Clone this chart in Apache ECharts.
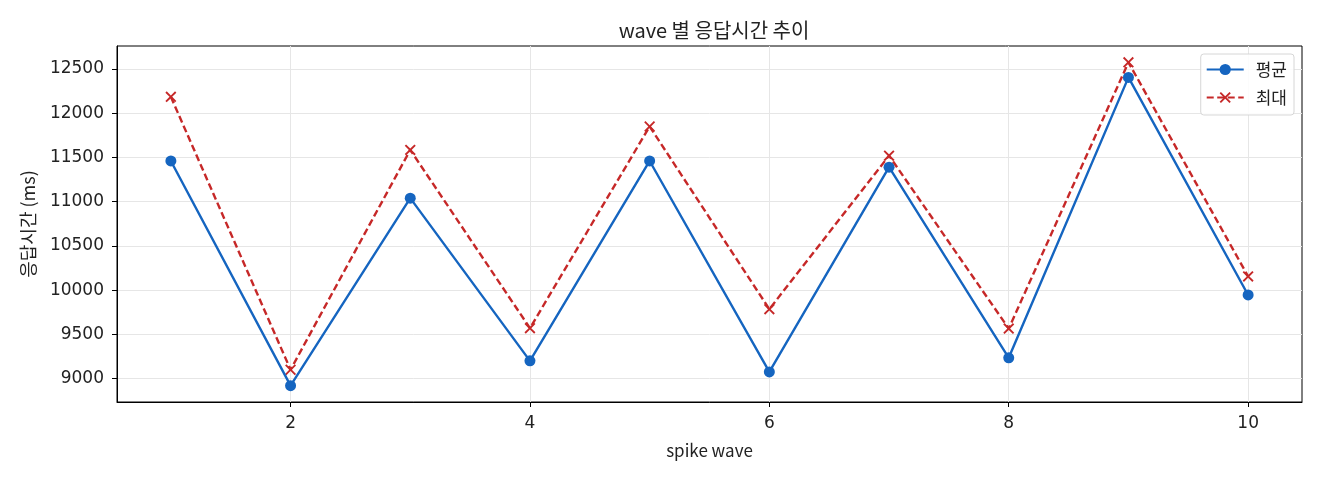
<!DOCTYPE html>
<html>
<head>
<meta charset="utf-8">
<script src="https://cdn.jsdelivr.net/npm/echarts@6/dist/echarts.min.js"></script>
<style>
  html, body { margin: 0; padding: 0; background: #fff; }
  #chart { width: 1320px; height: 480px; }
</style>
</head>
<body>
<div id="chart"></div>
<script>
var waves = [1, 2, 3, 4, 5, 6, 7, 8, 9, 10];
var avgMs = [11460, 8920, 11040, 9200, 11460, 9075, 11390, 9235, 12405, 9945];
var maxMs = [12185, 9100, 11585, 9570, 11850, 9785, 11520, 9565, 12575, 10155];
var xTicks = [2, 4, 6, 8, 10];
var yTicks = [9000, 9500, 10000, 10500, 11000, 11500, 12000, 12500];

var FONT = '"Noto Sans CJK KR", "Noto Sans", sans-serif';
var NUM_FONT = '"DejaVu Sans", "Noto Sans CJK KR", sans-serif';
var crossPath = 'path://M0,1.2L1.2,0L5,3.8L8.8,0L10,1.2L6.2,5L10,8.8L8.8,10L5,6.2L1.2,10L0,8.8L3.8,5Z';

function pairs(ys) {
  return waves.map(function (w, i) { return [w, ys[i]]; });
}

var myChart = echarts.init(document.getElementById('chart'));
var option = {
  animation: false,
  textStyle: { fontFamily: FONT },
  title: {
    text: 'wave 별 응답시간 추이',
    left: 709,
    textAlign: 'center',
    top: 15,
    textStyle: { fontFamily: FONT, fontSize: 20, fontWeight: 'normal', color: '#222' }
  },
  grid: {
    left: 117, right: 18, top: 46, bottom: 78,
    show: true, borderColor: '#000', borderWidth: 1
  },
  legend: {
    orient: 'vertical',
    right: 26,
    top: 54,
    itemWidth: 37,
    itemHeight: 14,
    itemGap: 11,
    padding: [7, 7, 9, 5],
    borderColor: '#d6d6d6',
    borderWidth: 1,
    borderRadius: 3,
    backgroundColor: 'rgba(255,255,255,0.85)',
    textStyle: { fontFamily: FONT, fontSize: 17, color: '#222', padding: [0, 0, 0, 7] },
    data: ['평균', '최대']
  },
  xAxis: {
    type: 'value',
    min: 0.55,
    max: 10.45,
    name: 'spike wave',
    nameLocation: 'middle',
    nameGap: 40,
    nameTextStyle: { fontFamily: FONT, fontSize: 17, color: '#222' },
    axisLine: { show: true, lineStyle: { color: '#000', width: 1 } },
    axisTick: { show: true, length: 5, lineStyle: { color: '#000' }, customValues: xTicks },
    axisLabel: { fontFamily: NUM_FONT, fontSize: 17, color: '#222', margin: 13, customValues: xTicks },
    splitLine: { show: true, lineStyle: { color: '#e6e6e6', width: 1 } }
  },
  yAxis: {
    type: 'value',
    min: 8735,
    max: 12760,
    name: '응답시간 (ms)',
    nameLocation: 'middle',
    nameGap: 80,
    nameTextStyle: { fontFamily: FONT, fontSize: 18, color: '#222' },
    axisLine: { show: true, lineStyle: { color: '#000', width: 1 } },
    axisTick: { show: true, length: 5, lineStyle: { color: '#000' }, customValues: yTicks },
    axisLabel: {
      fontFamily: NUM_FONT, fontSize: 17, color: '#222', margin: 13, customValues: yTicks,
      formatter: function (v) { return String(v); }
    },
    splitLine: { show: true, lineStyle: { color: '#e6e6e6', width: 1 } }
  },
  series: [
    {
      name: '평균',
      type: 'line',
      data: pairs(avgMs),
      symbol: 'circle',
      symbolSize: 11,
      itemStyle: { color: '#1565c0' },
      lineStyle: { color: '#1565c0', width: 2.4 },
      z: 3
    },
    {
      name: '최대',
      type: 'line',
      data: pairs(maxMs),
      symbol: crossPath,
      symbolSize: 11,
      itemStyle: { color: '#c62828' },
      lineStyle: { color: '#c62828', width: 2.4, type: [7, 3.5] },
      z: 2
    }
  ]
};
myChart.setOption(option);
window.addEventListener('resize', function () {
  myChart.resize();
});
</script>
</body>
</html>
